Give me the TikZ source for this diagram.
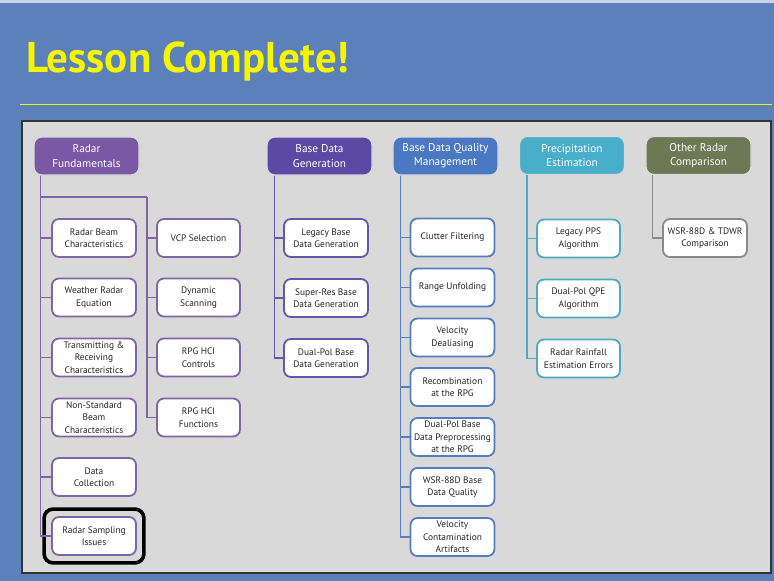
\documentclass[tikz,border=0pt]{standalone}
\usepackage{fontspec}
\setmainfont{PT Sans}
\usetikzlibrary{positioning, fit}
\definecolor{slideblue}{HTML}{5B80BA}
\definecolor{slidetop}{HTML}{C9D3E6}
\definecolor{titleyellow}{HTML}{F5F500}
\definecolor{panelgrey}{HTML}{D9D9D9}
\definecolor{rfpurple}{HTML}{7A58A6}
\definecolor{rfline}{HTML}{7D66A3}
\definecolor{bdgindigo}{HTML}{5A4AA6}
\definecolor{bdgline}{HTML}{6556A8}
\definecolor{bdqblue}{HTML}{4B78C2}
\definecolor{bdqline}{HTML}{557EC0}
\definecolor{peteal}{HTML}{48AEC9}
\definecolor{peline}{HTML}{4FAAC2}
\definecolor{orolive}{HTML}{6D7855}
\definecolor{orline}{HTML}{8A8A8A}
\tikzset{
  hdr/.style={rectangle, rounded corners=8pt, draw=white!85!black, line width=1.2pt,
              minimum width=105pt, minimum height=38pt, inner sep=1pt, align=center,
              text=white, font=\fontsize{11.3}{14.3}\selectfont},
  item/.style={rectangle, rounded corners=7pt, fill=white, line width=1.8pt,
               minimum width=84pt, minimum height=38pt, inner sep=1pt, align=center,
               text=black!85, font=\fontsize{9.4}{12.5}\selectfont},
  itemp/.style={item, draw=rfline},
  itemi/.style={item, draw=bdgline},
  itemb/.style={item, draw=bdqline},
  itemt/.style={item, draw=peline},
  itemg/.style={item, draw=orline},
  linkp/.style={draw=rfline, line width=1.5pt},
  linki/.style={draw=bdgline, line width=1.5pt},
  linkb/.style={draw=bdqline, line width=1.5pt},
  linkt/.style={draw=peline, line width=1.5pt},
  linkg/.style={draw=orline, line width=1.5pt},
  here/.style={draw=black, line width=3.6pt, rounded corners=9pt, inner sep=7pt},
}
\begin{document}
\begin{tikzpicture}[x=1pt, y=-1pt]
  \useasboundingbox (0,0) rectangle (774,581);
  % slide background and title
  \fill[slideblue] (0,0) rectangle (774,581);
  \fill[slidetop] (0,0) rectangle (774,2.5);
  \node[anchor=base west, inner sep=0pt, text=titleyellow,
        font=\fontsize{43}{45}\selectfont\bfseries] (title) at (26,72) {Lesson Complete!};
  \draw[titleyellow, line width=1pt] (20,104) -- (772,104);
  \draw[fill=panelgrey, draw=black!80, line width=1.2pt] (22,121) rectangle (771,573);

  % radar fundamentals
  \node[hdr, fill=rfpurple] (rf) at (86.5,156) {Radar\\Fundamentals};
  \node[itemp] (rbc) at (94,238) {Radar Beam\\Characteristics};
  \node[itemp] (wre) at (94,297.5) {Weather Radar\\Equation};
  \node[itemp] (trc) at (94,357.5) {Transmitting \&\\Receiving\\Characteristics};
  \node[itemp] (nsb) at (94,417.5) {Non-Standard\\Beam\\Characteristics};
  \node[itemp] (dcol) at (94,477) {Data\\Collection};
  \node[itemp] (rsi) at (94,536) {Radar Sampling\\Issues};
  \node[itemp, minimum width=83pt] (vcp) at (198.5,238) {VCP Selection};
  \node[itemp, minimum width=83pt] (dyn) at (198.5,297.5) {Dynamic\\Scanning};
  \node[itemp, minimum width=83pt] (hcic) at (198.5,357.5) {RPG HCI\\Controls};
  \node[itemp, minimum width=83pt] (hcif) at (198.5,417.5) {RPG HCI\\Functions};
  \node[here, fit=(rsi)] (now) {};
  \coordinate (rfbr) at (147,197);
  \foreach \n in {rbc, wre, trc, nsb, dcol, rsi}
    \draw[linkp] ([xshift=7pt]rf.south west) |- (\n.west);
  \draw[linkp] ([xshift=7pt]rf.south west) |- (rfbr);
  \foreach \n in {vcp, dyn, hcic, hcif}
    \draw[linkp] (rfbr) |- (\n.west);

  % base data generation
  \node[hdr, fill=bdgindigo] (bdg) at (319.5,156) {Base Data\\Generation};
  \node[itemi] (lbdg) at (326,238) {Legacy Base\\Data Generation};
  \node[itemi] (srbdg) at (326,298) {Super-Res Base\\Data Generation};
  \node[itemi] (dpbdg) at (326,358) {Dual-Pol Base\\Data Generation};
  \foreach \n in {lbdg, srbdg, dpbdg}
    \draw[linki] ([xshift=8pt]bdg.south west) |- (\n.west);

  % base data quality management
  \node[hdr, fill=bdqblue] (bdq) at (445.5,156) {Base Data Quality\\Management};
  \node[itemb] (clut) at (452.5,237.5) {Clutter Filtering};
  \node[itemb] (runf) at (452.5,287.5) {Range Unfolding};
  \node[itemb] (vdea) at (452.5,337.5) {Velocity\\Dealiasing};
  \node[itemb] (reco) at (452.5,387) {Recombination\\at the RPG};
  \node[itemb] (dppre) at (452.5,437) {Dual-Pol Base\\Data Preprocessing\\at the RPG};
  \node[itemb] (bdqual) at (452.5,487) {WSR-88D Base\\Data Quality};
  \node[itemb] (vcont) at (452.5,537) {Velocity\\Contamination\\Artifacts};
  \foreach \n in {clut, runf, vdea, reco, dppre, bdqual, vcont}
    \draw[linkb] ([xshift=8pt]bdq.south west) |- (\n.west);

  % precipitation estimation
  \node[hdr, fill=peteal] (pe) at (572,155.5) {Precipitation\\Estimation};
  \node[itemt, minimum width=83pt] (pps) at (578.5,238.5) {Legacy PPS\\Algorithm};
  \node[itemt, minimum width=83pt] (qpe) at (578.5,298.5) {Dual-Pol QPE\\Algorithm};
  \node[itemt, minimum width=83pt] (rree) at (578.5,358.5) {Radar Rainfall\\Estimation Errors};
  \foreach \n in {pps, qpe, rree}
    \draw[linkt] ([xshift=8pt]pe.south west) |- (\n.west);

  % other radar comparison
  \node[hdr, fill=orolive] (orc) at (698.5,155.5) {Other Radar\\Comparison};
  \node[itemg] (tdwr) at (705,238) {WSR-88D \& TDWR\\Comparison};
  \draw[linkg] ([xshift=7pt]orc.south west) |- (tdwr.west);
\end{tikzpicture}
\end{document}
